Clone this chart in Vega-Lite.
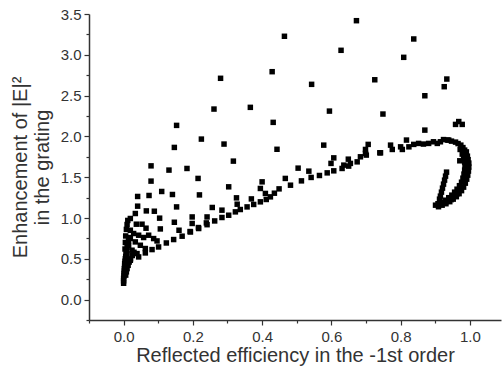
{
  "$schema": "https://vega.github.io/schema/vega-lite/v6.json",
  "width": 412,
  "height": 306,
  "autosize": {"type": "none"},
  "padding": {"left": 89, "top": 14, "right": 1, "bottom": 51},
  "background": "white",
  "config": {"view": {"stroke": null}},
  "data": {"values": [
    {"x":0.6725,"y":3.418},{"x":0.4645,"y":3.227},{"x":0.628,"y":3.055},{"x":0.429,"y":2.793},{"x":0.28,"y":2.712},{"x":0.543,"y":2.638},{"x":0.261,"y":2.335},{"x":0.366,"y":2.356},{"x":0.5945,"y":2.31},{"x":0.153,"y":2.135},{"x":0.432,"y":2.172},{"x":0.2246,"y":1.967},{"x":0.29,"y":1.906},{"x":0.1465,"y":1.865},{"x":0.443,"y":1.842},{"x":0.578,"y":1.893},{"x":0.838,"y":3.194},{"x":0.809,"y":2.969},{"x":0.7254,"y":2.694},{"x":0.9335,"y":2.703},{"x":0.926,"y":2.609},{"x":0.87,"y":2.498},{"x":0.749,"y":2.274},{"x":0.87,"y":2.077},{"x":0.9587,"y":2.147},{"x":0.968,"y":2.182},{"x":0.978,"y":2.147},
    {"x":0.0792,"y":1.639},{"x":0.131,"y":1.587},{"x":0.183,"y":1.607},{"x":0.215,"y":1.485},{"x":0.317,"y":1.697},{"x":0.0792,"y":1.452},{"x":0.11,"y":1.325},{"x":0.141,"y":1.288},{"x":0.219,"y":1.283},{"x":0.0405,"y":1.264},{"x":0.0734,"y":1.276},{"x":0.0405,"y":1.145},{"x":0.0656,"y":1.087},{"x":0.0887,"y":1.083},{"x":0.153,"y":1.136},{"x":0.256,"y":1.129},{"x":0.104,"y":0.998},{"x":0.0194,"y":0.994},{"x":0.0338,"y":1.055},{"x":0.198,"y":1.013},{"x":0.241,"y":1.013},{"x":0.1465,"y":0.948},{"x":0.0367,"y":0.924},{"x":0.0532,"y":0.924},{"x":0.198,"y":0.933},{"x":0.239,"y":0.94},{"x":0.0647,"y":0.875},{"x":0.106,"y":0.866},{"x":0.16,"y":0.85},{"x":0.192,"y":0.834},{"x":0.216,"y":0.883},
    {"x":0.284,"y":1.096},{"x":0.326,"y":1.247},{"x":0.328,"y":1.169},{"x":0.369,"y":1.234},{"x":0.395,"y":1.362},{"x":0.4,"y":1.443},{"x":0.4095,"y":1.301},{"x":0.467,"y":1.485},{"x":0.504,"y":1.611},{"x":0.535,"y":1.574},{"x":0.599,"y":1.669},{"x":0.607,"y":1.737},{"x":0.3035,"y":1.382},{"x":0.649,"y":1.721},{"x":0.636,"y":1.648},{"x":0.655,"y":1.669},{"x":0.684,"y":1.75},
    {"x":0.7064,"y":1.902},{"x":0.6986,"y":1.84},{"x":0.6986,"y":1.791},{"x":0.742,"y":1.799},{"x":0.771,"y":1.893},{"x":0.776,"y":1.84},{"x":0.8,"y":1.872},{"x":0.805,"y":1.84},{"x":0.817,"y":1.955},{"x":0.824,"y":1.872},{"x":0.838,"y":1.902},{"x":0.852,"y":1.914},{"x":0.866,"y":1.906},{"x":0.881,"y":1.914},{"x":0.895,"y":1.934},{"x":0.906,"y":1.914},{"x":0.915,"y":1.934},{"x":0.939,"y":1.955},
    {"x":0.0194,"y":0.482},{"x":0.0434,"y":0.523},{"x":0.0627,"y":0.572},{"x":0.0821,"y":0.613},{"x":0.101,"y":0.645},{"x":0.1234,"y":0.694},{"x":0.1445,"y":0.736},{"x":0.169,"y":0.777},{"x":0.193,"y":0.829},{"x":0.2168,"y":0.871},{"x":0.241,"y":0.918},{"x":0.263,"y":0.964},{"x":0.284,"y":1.006},{"x":0.3035,"y":1.034},{"x":0.3228,"y":1.075},{"x":0.337,"y":1.104},{"x":0.3566,"y":1.136},{"x":0.3757,"y":1.166},{"x":0.395,"y":1.198},{"x":0.412,"y":1.227},{"x":0.424,"y":1.259},{"x":0.4355,"y":1.304},{"x":0.449,"y":1.357},{"x":0.482,"y":1.402},{"x":0.5136,"y":1.455},{"x":0.5416,"y":1.497},{"x":0.5656,"y":1.521},{"x":0.588,"y":1.553},{"x":0.607,"y":1.578},{"x":0.631,"y":1.607},{"x":0.65,"y":1.636},{"x":0.6746,"y":1.688},{"x":0.701,"y":1.771},{"x":0.74,"y":1.799},
    {"x":0.0194,"y":0.85},{"x":0.0289,"y":0.81},{"x":0.0434,"y":0.789},{"x":0.0578,"y":0.761},{"x":0.0723,"y":0.789},{"x":0.0867,"y":0.748},{"x":0.0194,"y":0.748},{"x":0.0338,"y":0.707},{"x":0.0483,"y":0.666},{"x":0.0627,"y":0.626},{"x":0.0145,"y":0.666},{"x":0.0243,"y":0.605},{"x":0.0387,"y":0.564},{"x":0.0098,"y":0.564},{"x":0.0965,"y":0.719},
    {"x":0,"y":0.2},{"x":0,"y":0.23},{"x":0,"y":0.26},{"x":0.001,"y":0.29},{"x":0.001,"y":0.32},{"x":0.002,"y":0.35},{"x":0.002,"y":0.38},{"x":0.003,"y":0.41},{"x":0.003,"y":0.44},{"x":0.004,"y":0.47},{"x":0.005,"y":0.5},{"x":0.006,"y":0.53},{"x":0.007,"y":0.56},{"x":0.008,"y":0.6},{"x":0.01,"y":0.64},{"x":0.012,"y":0.68},{"x":0.014,"y":0.72},{"x":0.016,"y":0.76},{"x":0.006,"y":0.3},{"x":0.008,"y":0.34},{"x":0.01,"y":0.38},{"x":0.013,"y":0.42},{"x":0.016,"y":0.46},{"x":0.02,"y":0.5},{"x":0.025,"y":0.54},{"x":0.03,"y":0.58},{"x":0.004,"y":0.62},{"x":0.005,"y":0.7},{"x":0.006,"y":0.78},{"x":0.008,"y":0.86},{"x":0.01,"y":0.92},{"x":0.012,"y":0.97},
    {"x":0.924,"y":1.961},{"x":0.9355,"y":1.955},{"x":0.947,"y":1.942},{"x":0.9587,"y":1.93},{"x":0.966,"y":1.912},{"x":0.974,"y":1.893},{"x":0.98,"y":1.863},{"x":0.985,"y":1.832},{"x":0.989,"y":1.795},{"x":0.993,"y":1.758},{"x":0.995,"y":1.715},{"x":0.997,"y":1.673},{"x":0.997,"y":1.624},{"x":0.996,"y":1.575},{"x":0.994,"y":1.525},{"x":0.991,"y":1.476},{"x":0.987,"y":1.427},{"x":0.982,"y":1.378},{"x":0.976,"y":1.335},{"x":0.969,"y":1.298},{"x":0.961,"y":1.261},{"x":0.952,"y":1.231},{"x":0.942,"y":1.2},{"x":0.931,"y":1.175},{"x":0.92,"y":1.157},{"x":0.9095,"y":1.138},{"x":0.9009,"y":1.157},
    {"x":0.972,"y":1.84},{"x":0.978,"y":1.783},{"x":0.982,"y":1.734},{"x":0.985,"y":1.685},{"x":0.986,"y":1.636},{"x":0.985,"y":1.587},{"x":0.983,"y":1.538},{"x":0.98,"y":1.488},{"x":0.976,"y":1.439},{"x":0.97,"y":1.396},{"x":0.963,"y":1.353},{"x":0.956,"y":1.317},{"x":0.948,"y":1.28},{"x":0.939,"y":1.249},{"x":0.929,"y":1.218},{"x":0.918,"y":1.194},{"x":0.908,"y":1.175},
    {"x":0.99,"y":1.81},{"x":0.992,"y":1.65},{"x":0.99,"y":1.55},{"x":0.985,"y":1.46},{"x":0.975,"y":1.37},{"x":0.962,"y":1.29},{"x":0.946,"y":1.225},{"x":0.93,"y":1.195},
    {"x":0.9327,"y":1.562},{"x":0.9298,"y":1.513},{"x":0.927,"y":1.464},{"x":0.924,"y":1.415},{"x":0.921,"y":1.366},{"x":0.918,"y":1.317},{"x":0.915,"y":1.268},{"x":0.9124,"y":1.231},{"x":0.971,"y":1.701}
  ]},
  "mark": {"type": "square", "filled": true, "color": "#000000", "size": 30, "opacity": 1},
  "encoding": {
    "x": {
      "field": "x", "type": "quantitative",
      "scale": {"domain": [-0.1, 1.09], "nice": false, "zero": false},
      "axis": {
        "title": "Reflected efficiency in the -1st order",
        "values": [-0.1, 0, 0.1, 0.2, 0.3, 0.4, 0.5, 0.6, 0.7, 0.8, 0.9, 1.0],
        "labelExpr": "abs(datum.value*5 - round(datum.value*5)) < 0.01 ? format(datum.value, '.1f') : ''",
        "tickSize": {"condition": {"test": "abs(datum.value*5 - round(datum.value*5)) < 0.01", "value": 5}, "value": 3},
        "grid": false,
        "domainColor": "#333333", "domainWidth": 1.5,
        "tickColor": "#333333", "tickWidth": 1.2,
        "labelFont": "Liberation Sans", "labelFontSize": 15, "labelColor": "#333333", "labelPadding": 4,
        "titleFont": "Liberation Sans", "titleFontSize": 20, "titleFontWeight": "normal", "titleColor": "#333333", "titlePadding": 1
      }
    },
    "y": {
      "field": "y", "type": "quantitative",
      "scale": {"domain": [-0.25, 3.5], "nice": false, "zero": false},
      "axis": {
        "title": ["Enhancement of |E|²", "in the grating"],
        "values": [-0.25, 0, 0.25, 0.5, 0.75, 1, 1.25, 1.5, 1.75, 2, 2.25, 2.5, 2.75, 3, 3.25, 3.5],
        "labelExpr": "abs(datum.value*2 - round(datum.value*2)) < 0.01 ? format(datum.value, '.1f') : ''",
        "tickSize": {"condition": {"test": "abs(datum.value*2 - round(datum.value*2)) < 0.01", "value": 5}, "value": 3},
        "grid": false,
        "domainColor": "#333333", "domainWidth": 1.5,
        "tickColor": "#333333", "tickWidth": 1.2,
        "labelFont": "Liberation Sans", "labelFontSize": 15, "labelColor": "#333333", "labelPadding": 3,
        "titleFont": "Liberation Sans", "titleFontSize": 20, "titleFontWeight": "normal", "titleColor": "#333333", "titlePadding": 8, "titleLineHeight": 22
      }
    }
  }
}
